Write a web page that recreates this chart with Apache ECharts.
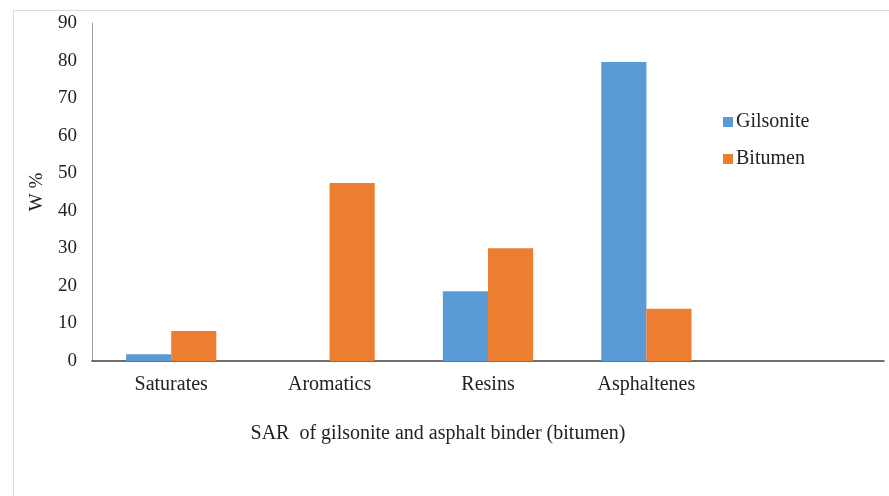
<!DOCTYPE html>
<html>
<head>
<meta charset="utf-8">
<script src="https://cdn.jsdelivr.net/npm/echarts@6/dist/echarts.min.js"></script>
<style>
  html, body { margin: 0; padding: 0; background: #fff; }
  #chart { width: 889px; height: 496px; }
</style>
</head>
<body>
<div id="chart"></div>
<script>
// categories (the last slot is empty in the original)
const categories = ['Saturates', 'Aromatics', 'Resins', 'Asphaltenes', '']
const gilsonite = [1.8, 0, 18.6, 79.6, null]
const bitumen = [8, 47.4, 30, 13.9, null]
const yTicks = [0, 90, 10]

const chart = echarts.init(document.getElementById('chart'))
const serif = '"Liberation Serif", "DejaVu Serif", serif'

chart.setOption({
  animation: false,
  textStyle: { fontFamily: serif },
  graphic: [
    {
      type: 'rect',
      shape: { x: 13.5, y: 10.5, width: 900, height: 520 },
      style: { fill: 'none', stroke: '#d9d9d9', lineWidth: 1 },
      silent: true
    }
  ],
  grid: { left: 92, right: 5, top: 23, bottom: 135 },
  legend: {
    orient: 'vertical',
    left: 718,
    top: 107,
    itemWidth: 10,
    itemHeight: 10,
    itemGap: 17,
    icon: 'rect',
    textStyle: { fontFamily: serif, fontSize: 20, color: '#222', padding: [0, 0, 0, -2] },
    data: ['Gilsonite', 'Bitumen']
  },
  xAxis: {
    type: 'category',
    data: categories,
    name: 'SAR  of gilsonite and asphalt binder (bitumen)',
    nameLocation: 'middle',
    nameGap: 63,
    nameTextStyle: { fontFamily: serif, fontSize: 20, color: '#222', padding: [0, 0, 0, -100] },
    axisLine: { lineStyle: { color: '#404040', width: 1.5 } },
    axisTick: { show: false },
    axisLabel: { fontFamily: serif, fontSize: 20, color: '#222', margin: 14, interval: 0 }
  },
  yAxis: {
    type: 'value',
    min: yTicks[0],
    max: yTicks[1],
    interval: yTicks[2],
    name: 'W %',
    nameLocation: 'middle',
    nameGap: 45,
    nameTextStyle: { fontFamily: serif, fontSize: 19, color: '#222' },
    axisLine: { show: true, lineStyle: { color: '#a0a0a0', width: 1 } },
    axisTick: { show: false },
    splitLine: { show: false },
    axisLabel: { fontFamily: serif, fontSize: 19, color: '#222', margin: 15, padding: [3, 0, 0, 0] }
  },
  series: [
    {
      name: 'Gilsonite',
      type: 'bar',
      data: gilsonite,
      barGap: '0%',
      barCategoryGap: '43%',
      itemStyle: { color: '#5b9bd5' }
    },
    {
      name: 'Bitumen',
      type: 'bar',
      data: bitumen,
      barGap: '0%',
      barCategoryGap: '43%',
      itemStyle: { color: '#ed7d31' }
    }
  ]
})
</script>
</body>
</html>
